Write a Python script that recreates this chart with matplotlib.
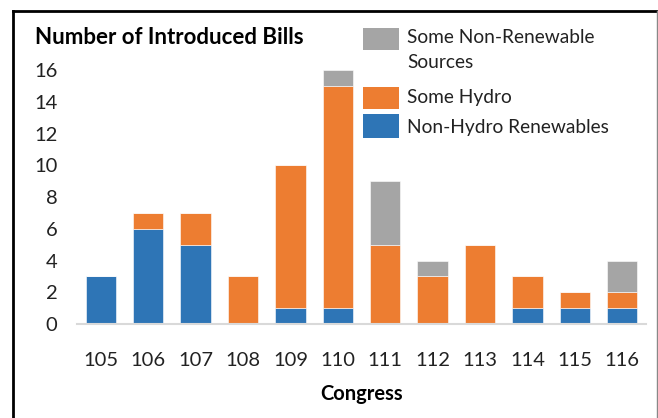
import numpy as np
import matplotlib
matplotlib.use("Agg")
import matplotlib.pyplot as plt
from matplotlib.patches import Rectangle
from matplotlib.lines import Line2D

plt.rcParams['font.family'] = ['Lato', 'DejaVu Sans']

# data
congress = ['105', '106', '107', '108', '109', '110', '111', '112', '113', '114', '115', '116']
non_hydro = [3, 6, 5, 0, 1, 1, 0, 0, 0, 1, 1, 1]
some_hydro = [0, 1, 2, 3, 9, 14, 5, 3, 5, 2, 1, 1]
non_renew = [0, 0, 0, 0, 0, 1, 4, 1, 0, 0, 0, 2]

c_blue = '#2E75B6'
c_orange = '#ED7D31'
c_gray = '#A5A5A5'
txt = '#222222'

W, H = 658, 418
fig = plt.figure(figsize=(6.58, 4.18), dpi=100)
ax = fig.add_axes([77 / W, 1 - 324 / H, 569 / W, 254 / H])

x = np.arange(len(congress))
w = 0.64
b1 = ax.bar(x, non_hydro, w, color=c_blue, edgecolor='white', linewidth=0.4)
b2 = ax.bar(x, some_hydro, w, bottom=non_hydro, color=c_orange, edgecolor='white', linewidth=0.4)
bottom3 = np.array(non_hydro) + np.array(some_hydro)
b3 = ax.bar(x, non_renew, w, bottom=bottom3, color=c_gray, edgecolor='white', linewidth=0.4)
for bars in (b1, b2, b3):
    for r in bars:
        r.set_clip_on(False)

ax.set_xlim(-0.5, len(congress) - 0.5)
ax.set_ylim(0, 16)
ax.set_yticks(range(0, 17, 2))
ax.set_xticks(x)
ax.set_xticklabels(congress)
ax.tick_params(axis='both', length=0, labelsize=14.5, colors=txt)
ax.tick_params(axis='y', pad=14)
ax.tick_params(axis='x', pad=20)
for s in ['top', 'right', 'left']:
    ax.spines[s].set_visible(False)
ax.spines['bottom'].set_color('#d9d9d9')
ax.spines['bottom'].set_linewidth(1.5)

ax.set_xlabel('Congress', fontsize=14.5, fontweight='bold', labelpad=11)
fig.text(35 / W, 1 - 38 / H, 'Number of Introduced Bills', fontsize=16,
         fontweight='bold', va='center', ha='left')

# legend drawn by hand so the two-line entry lines up like the original
leg_items = [
    (c_gray, 28, 50, 'Some Non-Renewable\nSources', 29),
    (c_orange, 87, 109, 'Some Hydro', 98),
    (c_blue, 114, 138, 'Non-Hydro Renewables', 127),
]
for col, y0, y1, lab, yc in leg_items:
    fig.add_artist(Rectangle((363 / W, 1 - y1 / H), 36 / W, (y1 - y0) / H,
                             transform=fig.transFigure, facecolor=col, edgecolor='none'))
    fig.text(407 / W, 1 - yc / H, lab, fontsize=13.8, color=txt, ha='left',
             va='top' if '\n' in lab else 'center', linespacing=1.6)

# outer frame
fig.add_artist(Line2D([13 / W, 13 / W], [0, 1 - 11 / H], color='black', lw=2))
fig.add_artist(Line2D([13 / W, 657 / W], [1 - 11 / H, 1 - 11 / H], color='black', lw=2))
fig.add_artist(Line2D([656.5 / W, 656.5 / W], [0, 1 - 11 / H], color='#888888', lw=1))

fig.savefig('out.png', dpi=100)
